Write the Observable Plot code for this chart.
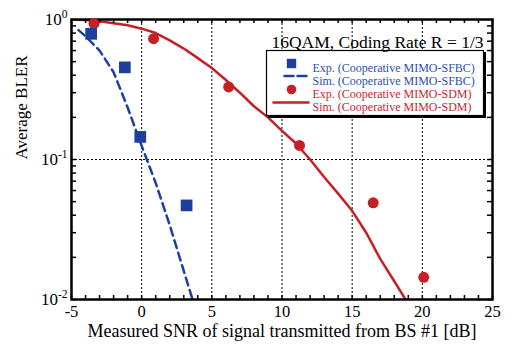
<!DOCTYPE html>
<html><head><meta charset="utf-8">
<script src="https://cdn.jsdelivr.net/npm/d3@7"></script>
<script src="https://cdn.jsdelivr.net/npm/@observablehq/plot@0.6"></script>
<style>body{margin:0;background:#fff}#chart{position:relative}#chart svg, #chart svg text{font-family:"Liberation Serif","Times New Roman",Times,serif !important}</style>
</head><body><div id="chart"></div>
<script>
// ---- data ----
const sfbcExpX = [-3.6, -1.2, -0.1, 3.2];
const sfbcExpY = [0.79, 0.455, 0.145, 0.047];
const sfbcSimX = [-4.5, -4, -3, -2, -1, 0, 1, 2, 3, 3.6, 3.7];
const sfbcSimY = [0.84, 0.76, 0.60, 0.42, 0.235, 0.125, 0.068, 0.034, 0.016, 0.0102, 0.009];
const sdmExpX = [-3.4, 0.85, 6.2, 11.25, 16.5, 20.1];
const sdmExpY = [0.935, 0.73, 0.33, 0.126, 0.049, 0.0144];
const sdmSimX = [-5, -4, -3, -2, -1, 0, 1, 2, 3, 4, 5, 6, 7, 8, 9, 10, 11, 12, 13, 14, 15, 16, 17, 18, 19];
const sdmSimY = [1.0, 0.99, 0.97, 0.94, 0.91, 0.86, 0.80, 0.71, 0.62, 0.53, 0.45, 0.37, 0.30, 0.24, 0.20, 0.16, 0.13, 0.10, 0.075, 0.057, 0.043, 0.030, 0.0195, 0.0135, 0.0093];
const xTicks = [-5, 0, 5, 10, 15, 20, 25];
const xGrid = [0, 5, 10, 15, 20];
const yTicks = [0.01, 0.1, 1];
const yGrid = [0.1];
const titleText = "16QAM, Coding Rate R = 1/3";
const xLabel = "Measured SNR of signal transmitted from BS #1 [dB]";
const yLabel = "Average BLER";
const legendLabels = ["Exp. (Cooperative MIMO-SFBC)", "Sim. (Cooperative MIMO-SFBC)", "Exp. (Cooperative MIMO-SDM)", "Sim. (Cooperative MIMO-SDM)"];

const BLUE = "#1e3f9e", RED = "#c62027";
const BLUE_T = "#2d4fae", RED_T = "#c8262e";

const pts = (xs, ys) => xs.map((x, i) => ({x, y: ys[i]}));
const xMinor = d3.range(-5, 26, 1);
const yMinor = [];
for (const e of [-2, -1]) for (let m = 1; m <= 9; m++) yMinor.push(m * 10 ** e);

const W = 514, H = 345, mt = 19, mb = 46, ml = 71, mr = 22;
const pw = W - ml - mr, ph = H - mt - mb;
const font = "'Liberation Serif', 'Times New Roman', Times, serif";

const lineShape = {draw(ctx, l) { ctx.moveTo(0, 0); ctx.lineTo(0, -l); }};

// legend geometry
const lgL = 266 - ml, lgR = W - mr - 483, lgT = 50 - mt, lgB = H - mb - 115;
const rowDy = [44, 56.5, 70, 83];
const legendMarks = [
  Plot.frame({insetLeft: lgL + 2, insetRight: lgR - 2, insetTop: lgT + 2, insetBottom: lgB - 2, fill: "black", stroke: "black"}),
  Plot.frame({insetLeft: lgL, insetRight: lgR, insetTop: lgT, insetBottom: lgB, fill: "white", stroke: "black", strokeWidth: 1.2}),
  Plot.dot([0], {frameAnchor: "top-left", dx: 291 - ml, dy: rowDy[0], symbol: "square", r: 5.3, fill: BLUE}),
  Plot.vector([0], {frameAnchor: "top-left", dx: 284 - ml, dy: rowDy[1], length: 24, rotate: 90, anchor: "start", shape: lineShape, stroke: BLUE, strokeWidth: 2.5, strokeDasharray: "9,4"}),
  Plot.dot([0], {frameAnchor: "top-left", dx: 291 - ml, dy: rowDy[2], r: 4.8, fill: RED}),
  Plot.vector([0], {frameAnchor: "top-left", dx: 273 - ml, dy: rowDy[3], length: 35, rotate: 90, anchor: "start", shape: lineShape, stroke: RED, strokeWidth: 2.5}),
  ...legendLabels.map((t, i) => Plot.text([t], {frameAnchor: "top-left", dx: 312 - ml, dy: rowDy[i], textAnchor: "start", fontSize: 12, fill: i < 2 ? BLUE_T : RED_T}))
];

const chart = Plot.plot({
  width: W, height: H,
  marginTop: mt, marginBottom: mb, marginLeft: ml, marginRight: mr,
  style: {fontFamily: font, background: "white", color: "black"},
  x: {domain: [-5, 25]},
  y: {type: "log", domain: [0.01, 1]},
  marks: [
    Plot.ruleX(xGrid, {stroke: "black", strokeWidth: 1, strokeDasharray: "2,2"}),
    Plot.ruleY(yGrid, {stroke: "black", strokeWidth: 1, strokeDasharray: "2,2"}),
    Plot.line(pts(sfbcSimX, sfbcSimY), {x: "x", y: "y", stroke: BLUE, strokeWidth: 2.5, strokeDasharray: "8,5", clip: true}),
    Plot.line(pts(sdmSimX, sdmSimY), {x: "x", y: "y", stroke: RED, strokeWidth: 2.5, clip: true}),
    Plot.frame({stroke: "black", strokeWidth: 2.5}),
    Plot.tickX(xMinor, {x: d => d, insetTop: ph - 4, stroke: "black", strokeWidth: 1.5}),
    Plot.tickX(xMinor, {x: d => d, insetBottom: ph - 4, stroke: "black", strokeWidth: 1.5}),
    Plot.tickY(yMinor, {y: d => d, insetRight: pw - 5, stroke: "black", strokeWidth: 1.5}),
    Plot.tickY(yMinor, {y: d => d, insetLeft: pw - 5, stroke: "black", strokeWidth: 1.5}),
    Plot.dot(pts(sdmExpX, sdmExpY), {x: "x", y: "y", r: 5.5, fill: RED}),
    Plot.dot(pts(sfbcExpX, sfbcExpY), {x: "x", y: "y", r: 6.6, symbol: "square", fill: BLUE}),
    ...legendMarks,
    Plot.text([titleText], {frameAnchor: "top-right", dx: -(492 - 483), dy: 16, textAnchor: "end", fontSize: 17.5}),
    Plot.axisX(xTicks, {tickSize: 0, tickPadding: 6, fontSize: 16.5, label: null, tickFormat: d => String(d)}),
    Plot.axisY(yTicks, {tickSize: 0, tickPadding: 4, fontSize: 17, label: null, tickFormat: d => "10^" + Math.round(Math.log10(d))}),
    Plot.text([xLabel], {frameAnchor: "bottom", dy: 37, fontSize: 18}),
    Plot.text([yLabel], {frameAnchor: "left", rotate: -90, dx: -50, fontSize: 17})
  ]
});

// superscript exponents on the y tick labels
d3.select(chart).selectAll("text").each(function() {
  const m = /^10\^(-?\d+)$/.exec(this.textContent);
  if (m) {
    this.textContent = "10";
    d3.select(this).append("tspan").attr("dy", "-7").attr("font-size", 11.5).text(m[1]);
  }
});
document.getElementById("chart").appendChild(chart);
</script></body></html>
